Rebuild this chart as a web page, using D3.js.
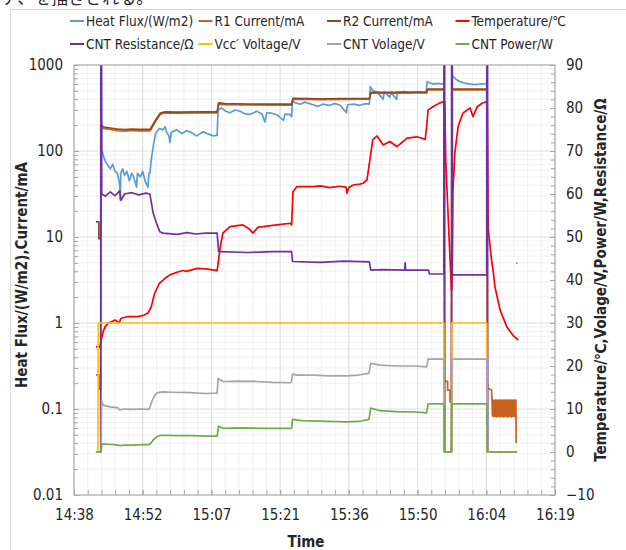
<!DOCTYPE html>
<html>
<head>
<meta charset="utf-8">
<script src="https://cdn.jsdelivr.net/npm/d3@7"></script>
<style>
  body { margin: 0; background: #fff; }
  text { font-family: "Liberation Sans Narrow", "DejaVu Sans Condensed", "Open Sans", sans-serif; fill: #262626; }
</style>
</head>
<body>
<div id="container"></div>
<script>

      // time = minutes after 14:00, null = no reading
      var xTicks = [38.4, 52.8, 67.2, 81.6, 96.0, 110.4, 124.8, 139.2];
      var xTickLabels = ["14:38", "14:52", "15:07", "15:21", "15:36", "15:50", "16:04", "16:19"];
      var leftTicks = [0.01, 0.1, 1, 10, 100, 1000];
      var leftTickLabels = ["0.01", "0.1", "1", "10", "100", "1000"];
      var rightTicks = [-10, 0, 10, 20, 30, 40, 50, 60, 70, 80, 90];

      var seriesNames = ["Heat Flux/(W/m2)", "R1 Current/mA", "R2 Current/mA", "Temperature/\u2103",
                         "CNT Resistance/\u03A9", "Vcc\u2032 Voltage/V", "CNT Volage/V", "CNT Power/W"];
      var seriesColors = ["#5B9BD5", "#C9621C", "#8E4A1C", "#FF0000",
                          "#7030A0", "#FFC000", "#A5A5A5", "#70AD47"];

      // left axis (log)
      var heatFlux = [[44.05,1500],[44.2,105],[44.5,90],[45.0,75],[45.5,68],[46.0,62],[46.5,70],
        [47.0,58],[47.5,55],[48.0,40],[48.1,27],[48.2,55],[48.6,62],[49.0,52],[49.5,58],[50.0,45],[50.5,55],[51.0,48],
        [51.5,38],[51.7,55],[52.3,50],[52.8,58],[53.3,45],[53.9,38],[54.1,55],[54.3,55],[54.6,80],[55.0,112],[55.5,160],
        [56.3,183],[57.0,176],[57.5,192],[57.8,167],[58.3,150],[58.5,125],[58.8,165],[59.9,176],[61.0,160],[62.0,172],
        [62.7,167],[64.1,150],[65.5,167],[66.5,158],[67.6,150],[68.4,152],[68.6,300],[69.3,317],[70.2,290],[71.1,278],
        [72.2,300],[73.2,290],[74.3,270],[75.3,266],[76.7,290],[77.8,270],[78.4,218],[78.8,275],[79.5,278],[81.0,262],
        [82.3,227],[82.6,268],[83.7,266],[84.0,250],[84.2,380],[85.0,360],[85.8,350],[86.8,370],[88.5,345],[89.5,330],
        [90.5,350],[92.0,340],[93.0,355],[94.2,340],[95.5,278],[95.7,345],[97.0,350],[98.3,340],[99.5,355],[100.3,350],
        [100.5,560],[101.1,500],[102.0,480],[103.2,398],[103.4,490],[104.6,420],[104.8,485],[106.0,398],[106.2,480],
        [107.5,490],[108.8,475],[110.5,485],[112.2,470],[112.4,640],[113.6,600],[114.5,610],[115.9,600],[116.0,null],
        [117.6,1000],[117.7,740],[118.5,680],[119.3,640],[120.5,610],[121.4,600],[122.5,590],[123.9,605],
        [124.9,600]];

      var r1Current = [[43.0,0.25],[43.6,0.25],[43.6,0.17],[44.0,0.17],[44.1,185],[44.5,183],[46.0,178],[47.5,172],
        [49.0,170],[50.5,173],[52.0,171],[54.0,171],[54.4,173],[55.5,222],[56.5,268],[57.5,277],[60.0,276],[65.0,278],
        [68.4,278],[68.7,350],[70.0,346],[75.0,343],[80.0,342],[84.0,342],[84.3,400],[90.0,396],[95.0,398],[100.3,400],
        [100.6,470],[105.0,470],[110.0,474],[112.3,474],[112.5,515],[115.9,515],[116.0,0.21],[116.7,0.21],[116.7,0.166],
        [117.2,0.166],[117.2,0.121],[117.5,0.121],[117.6,515],[124.9,515],[125.0,0.20],[125.1,0.174],[125.9,0.166],
        [126.0,0.127],[126.1,0.083],[126.2,0.127],[126.3,0.082],[126.4,0.126],[126.5,0.083],[126.6,0.127],[126.7,0.082],
        [126.8,0.127],[126.9,0.081],[127.0,0.126],[127.1,0.082],[127.2,0.127],[127.3,0.083],[127.4,0.127],[127.5,0.082],
        [127.6,0.126],[127.7,0.081],[127.8,0.127],[127.9,0.082],[128.0,0.127],[128.1,0.083],[128.2,0.126],[128.3,0.082],
        [128.4,0.127],[128.5,0.081],[128.6,0.127],[128.7,0.082],[128.8,0.126],[128.9,0.083],[129.0,0.127],[129.1,0.082],
        [129.2,0.127],[129.3,0.081],[129.4,0.126],[129.5,0.082],[129.6,0.127],[129.7,0.083],[129.8,0.127],[129.9,0.082],
        [130.0,0.126],[130.1,0.081],[130.2,0.127],[130.3,0.082],[130.4,0.127],[130.5,0.083],[130.6,0.126],[130.7,0.082],
        [130.8,0.127],[130.9,0.081],[131.0,0.127],[131.05,0.041],[131.2,0.041]];

      var r2Current = [[43.0,15],[43.6,15],[43.6,9.6],[44.0,9.6],[44.1,205],[44.5,190],[46.0,185],[47.5,180],[49.0,177],
        [50.5,180],[52.0,178],[54.0,178],[54.4,180],[55.5,230],[56.5,276],[57.5,285],[60.0,283],[65.0,285],[68.4,285],
        [68.7,362],[70.0,355],[75.0,352],[80.0,350],[84.0,350],[84.3,410],[90.0,405],[95.0,408],[100.3,410],[100.6,480],
        [105.0,480],[110.0,485],[112.3,485],[112.5,525],[115.9,525],[116.0,null],[117.6,525],[124.9,525],
        [125.0,null],[131.1,4.95],[131.3,4.95]];

      // right axis
      var temperature = [[43.0,24.5],[43.8,24.3],[44.1,26],[44.5,28],[44.9,29.1],[45.5,29.9],[47.0,30.7],[47.9,30.0],
        [48.2,31.0],[48.3,31.1],[49.7,31.5],[51.8,31.5],[53.0,31.8],[53.9,32.3],[54.6,33.8],[55.3,36.9],[56.3,39.2],
        [57.5,40.4],[58.5,41.2],[60.0,41.8],[61.2,42.2],[62.0,42.0],[64.2,42.7],[66.0,42.6],[68.4,42.2],[68.7,44.7],
        [69.1,48],[69.6,50.9],[71.1,52.4],[73.8,52.8],[75.0,52.0],[75.9,50.9],[77.0,52.3],[78.0,52.4],[80.9,52.8],
        [83.7,53.2],[84.0,52.8],[84.3,60.5],[85.1,61.7],[88.5,61.7],[90.0,61.9],[92.0,61.5],[94.0,61.8],[95.4,61.6],
        [95.6,60.2],[96.0,61.5],[96.9,62.1],[98.3,62.3],[99.0,62.5],[99.8,63.3],[100.4,67.9],[101.0,72.6],[101.9,73.5],
        [103.2,71.4],[104.6,72.2],[106.1,71.0],[108.2,73.0],[110.3,73.3],[112.0,72.7],[112.3,75.7],[112.6,79.5],
        [113.6,80.3],[115.1,81.2],[115.9,81.5],[116.1,81.5],[116.3,68],[116.8,55],[117.2,45],[117.5,37.7],[117.6,37.7],
        [117.8,60.2],[118.2,69.5],[118.9,75.7],[119.9,78.8],[121.4,80.0],[122.0,78.0],[122.9,80.3],[123.9,81.1],
        [124.9,81.5],[125.0,81.5],[125.2,52],[125.6,47.7],[125.9,44.7],[126.3,41.6],[126.6,38.5],[127.7,33.0],
        [129.1,29.1],[130.5,27.0],[131.5,26.0]];

      var cntResistance = [[43.0,0],[44.0,0],[44.05,300],[44.2,60],[45.0,59.5],[46.0,60.5],[47.0,59.6],[48.0,60.8],
        [48.2,58.5],[49.0,60],[50.5,60.3],[52.0,59.8],[53.5,60.2],[54.3,60],[55.0,55.5],[55.7,53.2],[56.4,51.2],
        [57.0,50.9],[60.0,50.6],[62.0,51.0],[64.0,50.7],[66.0,50.9],[68.4,50.9],[68.7,46.6],[75.0,46.4],[80.0,46.6],
        [84.0,46.6],[84.2,44.3],[90.0,44.1],[95.0,44.4],[100.3,44.2],[100.6,42.3],[103.0,42.4],[107.7,42.3],[107.8,44.0],
        [107.9,42.3],[112.7,42.3],[112.9,41.4],[115.9,41.4],[116.0,300],[116.1,0],[117.5,0],[117.6,300],[117.7,41.2],
        [124.9,41.2],[125.0,300],[125.1,0],[131.2,0]];

      var vccVoltage = [[43.0,0],[43.4,0],[43.5,30],[115.9,30],[116.0,0],[117.5,0],[117.6,30],[124.9,30],[125.0,0],[131.2,0]];

      var cntVoltage = [[43.0,0],[44.1,0],[44.2,12],[44.5,10.9],[45.9,10.5],[47.5,10.3],[48.0,9.8],[49.0,10.0],
        [50.8,9.9],[52.5,10.0],[54.1,9.9],[55.0,12.5],[55.7,13.7],[56.8,14.0],[59.0,13.9],[62.7,13.8],[66.0,13.6],
        [68.4,13.7],[68.6,17.1],[69.6,16.4],[73.0,16.5],[76.7,16.4],[80.0,16.2],[83.7,16.1],[84.0,16.4],[84.2,18.1],
        [85.0,17.9],[88.5,17.9],[92.0,17.7],[95.6,17.7],[98.0,17.9],[100.2,18.3],[100.6,20.6],[102.5,20.2],[106.0,20.0],
        [110.0,20.0],[112.3,19.8],[112.6,21.6],[115.9,21.6],[116.0,0],[117.5,0],[117.6,21.6],[124.9,21.6],[125.0,0],
        [131.2,0]];

      var cntPower = [[43.0,0],[44.1,0],[44.2,1.9],[45.5,1.8],[47.0,1.7],[48.1,1.5],[49.0,1.6],[51.0,1.6],[53.0,1.7],
        [54.2,1.7],[55.2,3.0],[55.8,3.6],[56.8,3.9],[60.0,3.8],[63.0,3.8],[66.0,3.7],[68.4,3.7],[68.7,6.0],[69.6,5.5],
        [73.0,5.6],[78.0,5.5],[83.7,5.5],[84.0,5.5],[84.2,7.6],[86.0,7.3],[90.0,7.2],[95.6,7.0],[98.0,7.1],[100.2,7.6],
        [100.6,10.2],[102.5,9.6],[106.0,9.4],[110.0,9.3],[112.3,9.1],[112.6,11.2],[115.9,11.2],[116.0,0],[117.5,0],
        [117.6,11.2],[124.9,11.2],[125.0,0],[131.3,0]];

      //Width and height
      var w = 626;
      var h = 550;
      var plotL = 74, plotR = 555, plotT = 65, plotB = 495;

      var x = d3.scaleLinear().domain([38.4, 139.2]).range([plotL, plotR]);
      var yL = d3.scaleLog().domain([0.01, 1000]).range([plotB, plotT]);
      var yR = d3.scaleLinear().domain([-10, 90]).range([plotB, plotT]);

      var svg = d3.select("#container")
            .append("svg")
            .attr("width", w)
            .attr("height", h);

      //Outer chart border and clipped caption from the page above
      svg.append("text")
        .attr("x", 2).attr("y", 4)
        .style("font-family", "'Noto Sans CJK JP', sans-serif")
        .style("font-size", "17px")
        .text("ア、を描きされる。");
      svg.append("rect")
        .attr("x", 10.5).attr("y", 9.5)
        .attr("width", 640).attr("height", 560)
        .attr("fill", "none").attr("stroke", "#d9d9d9");

      //Gridlines
      var minorX = d3.range(38.4, 139.3, 2.88);
      var minorL = [];
      [0.01, 0.1, 1, 10, 100].forEach(function(d) {
        for (var k = 2; k < 10; k++) minorL.push(d * k);
      });
      var grid = svg.append("g");
      grid.selectAll(".mx").data(minorX).enter().append("line")
        .attr("x1", function(d) { return x(d); }).attr("x2", function(d) { return x(d); })
        .attr("y1", plotT).attr("y2", plotB).attr("stroke", "#f0f0f0");
      grid.selectAll(".ml").data(minorL).enter().append("line")
        .attr("y1", function(d) { return yL(d); }).attr("y2", function(d) { return yL(d); })
        .attr("x1", plotL).attr("x2", plotR).attr("stroke", "#f0f0f0");
      grid.selectAll(".MX").data(xTicks).enter().append("line")
        .attr("x1", function(d) { return x(d); }).attr("x2", function(d) { return x(d); })
        .attr("y1", plotT).attr("y2", plotB).attr("stroke", "#dedede");
      grid.selectAll(".ML").data(leftTicks).enter().append("line")
        .attr("y1", function(d) { return yL(d); }).attr("y2", function(d) { return yL(d); })
        .attr("x1", plotL).attr("x2", plotR).attr("stroke", "#dedede");

      //Series
      svg.append("clipPath").attr("id", "plot")
        .append("rect").attr("x", plotL).attr("y", plotT).attr("width", plotR - plotL).attr("height", plotB - plotT);

      var has = function(d) { return d[1] != null; };
      var lineL = d3.line().defined(has).x(function(d) { return x(d[0]); }).y(function(d) { return yL(d[1]); });
      var lineR = d3.line().defined(has).x(function(d) { return x(d[0]); }).y(function(d) { return yR(d[1]); });

      var layers = [
        [heatFlux, lineL, 0], [r1Current, lineL, 1], [r2Current, lineL, 2],
        [temperature, lineR, 3], [cntResistance, lineR, 4], [vccVoltage, lineR, 5],
        [cntVoltage, lineR, 6], [cntPower, lineR, 7]
      ];
      var lines = svg.append("g").attr("clip-path", "url(#plot)");
      layers.forEach(function(l) {
        lines.append("path")
          .attr("d", l[1](l[0]))
          .attr("fill", "none")
          .attr("stroke", seriesColors[l[2]])
          .attr("stroke-width", 1.7)
          .attr("stroke-linejoin", "round");
      });

      //Plot border
      svg.append("rect")
        .attr("x", plotL).attr("y", plotT)
        .attr("width", plotR - plotL).attr("height", plotB - plotT)
        .attr("fill", "none").attr("stroke", "#a6a6a6");

      //Axes
      function styleAxis(g) {
        g.select(".domain").remove();
        g.selectAll("line").attr("stroke", "#a6a6a6");
        g.selectAll("text").style("font-size", "15px").attr("fill", "#262626");
      }

      svg.append("g").attr("transform", "translate(0," + plotB + ")")
        .call(d3.axisBottom(x).tickValues(minorX).tickFormat("").tickSize(-5))
        .call(styleAxis);
      svg.append("g").attr("transform", "translate(0," + plotB + ")")
        .call(d3.axisBottom(x).tickValues(xTicks).tickFormat(function(d, i) { return xTickLabels[i]; })
          .tickSizeInner(-5).tickSizeOuter(0).tickPadding(14))
        .call(styleAxis);

      svg.append("g").attr("transform", "translate(" + plotL + ",0)")
        .call(d3.axisLeft(yL).tickValues(minorL).tickFormat("").tickSize(-4))
        .call(styleAxis);
      svg.append("g").attr("transform", "translate(" + plotL + ",0)")
        .call(d3.axisLeft(yL).tickValues(leftTicks).tickFormat(function(d, i) { return leftTickLabels[i]; })
          .tickSizeInner(-5).tickSizeOuter(0).tickPadding(11))
        .call(styleAxis);

      svg.append("g").attr("transform", "translate(" + plotR + ",0)")
        .call(d3.axisRight(yR).tickValues(d3.range(-10, 91, 2)).tickFormat("").tickSize(-4))
        .call(styleAxis);
      svg.append("g").attr("transform", "translate(" + plotR + ",0)")
        .call(d3.axisRight(yR).tickValues(rightTicks).tickFormat(d3.format("d"))
          .tickSizeInner(-5).tickSizeOuter(0).tickPadding(11))
        .call(styleAxis);

      //Axis titles
      svg.append("text")
        .attr("x", 306).attr("y", 547)
        .attr("text-anchor", "middle")
        .style("font-size", "15px").style("font-weight", "bold")
        .text("Time");
      svg.append("text")
        .attr("transform", "translate(27,275) rotate(-90)")
        .attr("text-anchor", "middle")
        .style("font-size", "15px").style("font-weight", "bold")
        .text("Heat Flux/(W/m2),Current/mA");
      svg.append("text")
        .attr("transform", "translate(606,280) rotate(-90)")
        .attr("text-anchor", "middle")
        .style("font-size", "15px").style("font-weight", "bold")
        .text("Temperature/\u2103,Volage/V,Power/W,Resistance/\u03A9");

      //Legend
      var legend = svg.append("g");
      seriesNames.forEach(function(name, i) {
        var lx = 70 + (i % 4) * 128.5;
        var ly = 21 + Math.floor(i / 4) * 23;
        legend.append("line")
          .attr("x1", lx).attr("x2", lx + 14)
          .attr("y1", ly).attr("y2", ly)
          .attr("stroke", seriesColors[i]).attr("stroke-width", 2);
        legend.append("text")
          .attr("x", lx + 16).attr("y", ly + 5)
          .style("font-size", "13.5px")
          .text(name);
      });

</script>
</body>
</html>
